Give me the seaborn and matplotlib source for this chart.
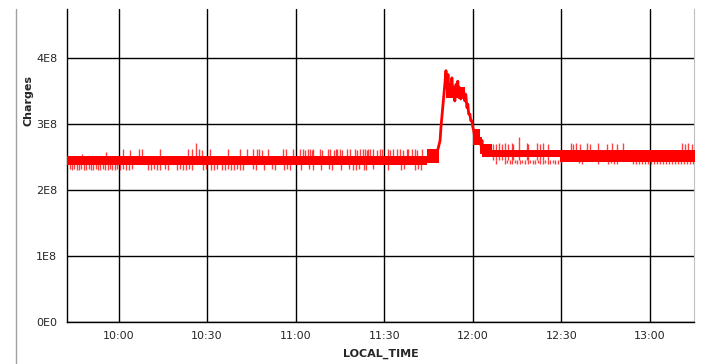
import numpy as np
import pandas as pd
import matplotlib
matplotlib.use("Agg")
import matplotlib.pyplot as plt
import matplotlib.dates as mdates
from matplotlib.lines import Line2D
from matplotlib.ticker import FuncFormatter
import seaborn as sns

# --- data (times = minutes after 10:00, values in units of 1E8) ---
# solid core of the noisy series
band_start = [-17.6, 104.5, 111.0, 120.2, 122.4, 123.2, 126.5, 149.5]
band_end   = [104.5, 108.4, 117.5, 122.4, 123.2, 126.5, 149.5, 195.2]
band_lo    = [2.385, 2.41, 3.40, 2.68, 2.55, 2.50, 2.50, 2.43]
band_hi    = [2.515, 2.62, 3.56, 2.92, 2.80, 2.70, 2.60, 2.60]

# the peak around 11:50
hump_t = [108.2, 108.9, 109.2, 109.7, 110.2, 110.6, 110.9, 111.2, 111.6, 111.9,
          112.3, 112.6, 112.9, 113.3, 113.6, 113.9, 114.3, 114.6, 114.9, 115.3,
          115.6, 115.9, 116.3, 116.6, 116.9, 117.3, 117.6, 118.0, 118.3, 118.6,
          119.0, 119.3, 119.7, 120.0, 120.3, 120.7, 121.0, 121.4, 121.7, 122.0,
          122.4, 122.7, 123.1, 123.4]
hump_v = [2.62, 2.75, 2.95, 3.20, 3.45, 3.65, 3.81, 3.55, 3.75, 3.45,
          3.60, 3.45, 3.70, 3.42, 3.55, 3.35, 3.60, 3.45, 3.65, 3.40,
          3.55, 3.38, 3.50, 3.40, 3.50, 3.35, 3.45, 3.25, 3.30, 3.15,
          3.15, 3.05, 3.05, 2.95, 2.90, 2.78, 2.85, 2.72, 2.80, 2.70,
          2.78, 2.68, 2.75, 2.60]

# upward spikes
up_t = [-12.5, -4.3, 1.4, 3.9, 7.0, 7.9, 14.1, 23.6, 24.8, 26.1, 27.3, 28.4, 31.0,
        37.2, 41.1, 43.4, 45.6, 46.8, 47.6, 48.5, 50.7, 55.8, 56.6, 59.2, 61.5,
        62.6, 63.2, 64.3, 64.8, 65.4, 66.0, 68.2, 69.0, 71.0, 71.6, 72.9, 73.5,
        74.1, 75.0, 75.6, 77.3, 78.4, 80.1, 80.7, 81.8, 82.9, 83.5, 84.1, 84.6,
        85.2, 86.3, 87.5, 88.6, 89.1, 91.4, 91.9, 93.1, 94.2, 95.3, 96.4, 97.6,
        98.1, 99.3, 100.4, 101.0, 102.7,
        126.8, 127.9, 128.9, 129.8, 130.9, 132.0, 133.2, 133.7, 135.5, 138.2,
        138.8, 141.6, 142.7, 143.9, 145.6, 153.2, 154.0, 154.9, 156.3, 158.5,
        159.7, 162.5, 165.3, 167.0, 168.7, 170.8, 190.8, 191.8, 192.9, 194.1]
up_v = [2.55, 2.58, 2.62, 2.60, 2.62, 2.62, 2.62, 2.62, 2.62, 2.71, 2.62, 2.60, 2.62,
        2.62, 2.62, 2.62, 2.62, 2.62, 2.62, 2.60, 2.62, 2.62, 2.62, 2.62, 2.62,
        2.62, 2.60, 2.62, 2.62, 2.60, 2.62, 2.62, 2.60, 2.62, 2.62, 2.60, 2.62,
        2.62, 2.62, 2.60, 2.62, 2.62, 2.62, 2.60, 2.62, 2.62, 2.62, 2.60, 2.62,
        2.62, 2.62, 2.60, 2.62, 2.62, 2.62, 2.60, 2.62, 2.62, 2.62, 2.60, 2.62,
        2.62, 2.62, 2.62, 2.60, 2.62,
        2.70, 2.70, 2.71, 2.70, 2.71, 2.70, 2.71, 2.70, 2.81, 2.71,
        2.70, 2.71, 2.70, 2.71, 2.70, 2.71, 2.70, 2.71, 2.70, 2.71,
        2.70, 2.71, 2.70, 2.71, 2.70, 2.71, 2.71, 2.70, 2.71, 2.70]

# downward spikes
down_t = [-16.4, -15.7, -15.1, -14.1, -13.4, -12.7, -11.7, -11.0, -10.0, -9.3, -8.6,
          -7.6, -6.9, -6.3, -5.2, -4.6, -3.6, -2.9, -2.2, -1.2, -0.5,
          0.5, 1.5, 2.5, 3.6, 4.6, 10.0, 11.0, 12.0, 13.0, 14.1, 15.7, 16.8,
          19.8, 20.8, 21.8, 22.9, 23.9, 24.9, 28.6, 29.6, 31.3, 32.3, 33.4,
          35.0, 36.1, 37.1, 38.1, 39.1, 40.1, 41.1, 42.2, 45.5, 46.6, 49.3,
          52.0, 53.0, 56.0, 57.1, 58.1, 61.8, 64.5, 65.9, 68.6, 71.3, 72.3,
          75.3, 78.1, 79.4, 80.4, 81.4, 83.1, 83.8, 86.2, 91.3, 95.7, 96.7,
          100.4, 101.4, 102.4,
          127.8, 130.9, 131.6, 132.6, 133.3, 134.3, 134.9, 136.0, 136.6, 137.7,
          138.7, 139.3, 140.4, 141.0, 142.0, 142.7, 143.7, 144.4, 145.4, 146.1,
          147.1, 147.8, 148.8, 149.8, 155.9, 156.9, 162.4, 165.7, 166.7, 167.7,
          168.7, 174.2, 175.3, 176.3, 177.3, 178.3, 179.3, 180.3, 181.3, 182.4,
          183.4, 184.4, 185.4, 186.4, 187.4, 188.4, 189.4, 190.4, 191.4, 192.5,
          193.5, 194.5]
down_v = [2.31, 2.30, 2.31, 2.30, 2.30, 2.31, 2.30, 2.30, 2.31, 2.30, 2.30,
          2.31, 2.30, 2.30, 2.31, 2.30, 2.30, 2.31, 2.30, 2.30, 2.31,
          2.30, 2.31, 2.30, 2.30, 2.31, 2.30, 2.30, 2.31, 2.30, 2.30, 2.31, 2.30,
          2.30, 2.31, 2.30, 2.30, 2.31, 2.30, 2.30, 2.31, 2.30, 2.30, 2.31,
          2.30, 2.30, 2.31, 2.30, 2.30, 2.31, 2.30, 2.30, 2.31, 2.30, 2.30,
          2.31, 2.30, 2.30, 2.31, 2.30, 2.30, 2.31, 2.30, 2.30, 2.31, 2.30,
          2.30, 2.31, 2.30, 2.30, 2.31, 2.30, 2.30, 2.31, 2.30, 2.30, 2.31,
          2.30, 2.31, 2.30,
          2.40, 2.40, 2.41, 2.40, 2.40, 2.41, 2.40, 2.40, 2.41, 2.40,
          2.40, 2.41, 2.40, 2.40, 2.41, 2.40, 2.40, 2.41, 2.40, 2.40,
          2.41, 2.40, 2.40, 2.41, 2.41, 2.40, 2.40, 2.40, 2.41, 2.40,
          2.40, 2.40, 2.39, 2.40, 2.39, 2.40, 2.39, 2.40, 2.39, 2.40,
          2.39, 2.40, 2.39, 2.40, 2.39, 2.40, 2.39, 2.40, 2.39, 2.40,
          2.39, 2.40]

y_ticks = [0, 1, 2, 3, 4]

# --- plot ---
sns.set_style("white")
plt.rcParams["font.family"] = ["DejaVu Sans"]

base = pd.Timestamp("2021-01-01 10:00")


def tm(m):
    return base + pd.to_timedelta(np.asarray(m, dtype=float), unit="min")


fig = plt.figure(figsize=(7.11, 3.64), dpi=100)
ax = fig.add_axes([67 / 711, 1 - 321.7 / 364, 627 / 711, 312.7 / 364])

for s, e, lo, hi in zip(band_start, band_end, band_lo, band_hi):
    ax.fill_between(tm([s, e]), lo * 1e8, hi * 1e8, color="red", lw=0, zorder=3)

ax.vlines(tm(up_t), 2.45e8, np.array(up_v) * 1e8, color="red", lw=1.0, alpha=0.75, zorder=3)
ax.vlines(tm(down_t), 2.45e8, np.array(down_v) * 1e8, color="red", lw=1.0, alpha=0.75, zorder=3)

sns.lineplot(x=tm(hump_t), y=np.array(hump_v) * 1e8, ax=ax, color="red",
             lw=2.0, estimator=None, sort=False, zorder=4)

ax.set_xlim(tm(-17.45), tm(194.9))
ax.set_ylim(0, 4.745e8)
ax.set_yticks([v * 1e8 for v in y_ticks])
ax.yaxis.set_major_formatter(FuncFormatter(lambda v, p: "0E0" if v == 0 else f"{int(round(v / 1e8))}E8"))
ax.xaxis.set_major_locator(mdates.MinuteLocator(byminute=[0, 30]))
ax.xaxis.set_major_formatter(mdates.DateFormatter("%H:%M"))

ax.grid(True, color="black", lw=1)
ax.set_axisbelow(True)
ax.tick_params(direction="out", length=5, width=1, color="black", labelsize=8, pad=2)
for sp in ["left", "bottom"]:
    ax.spines[sp].set_color("black")
    ax.spines[sp].set_linewidth(1)
ax.spines["top"].set_visible(False)
ax.spines["right"].set_color("#c0c0c0")

ax.set_ylabel("Charges", fontweight="bold", fontsize=8)
ax.yaxis.set_label_coords(-0.054, 0.706)
ax.set_xlabel("LOCAL_TIME", fontweight="bold", fontsize=8)
ax.xaxis.set_label_coords(0.5, -0.085)

fig.add_artist(Line2D([16 / 711, 16 / 711], [0, 1 - 9 / 364], color="#a0a0a0", lw=1,
                      transform=fig.transFigure))

fig.savefig("out.png", dpi=100)
